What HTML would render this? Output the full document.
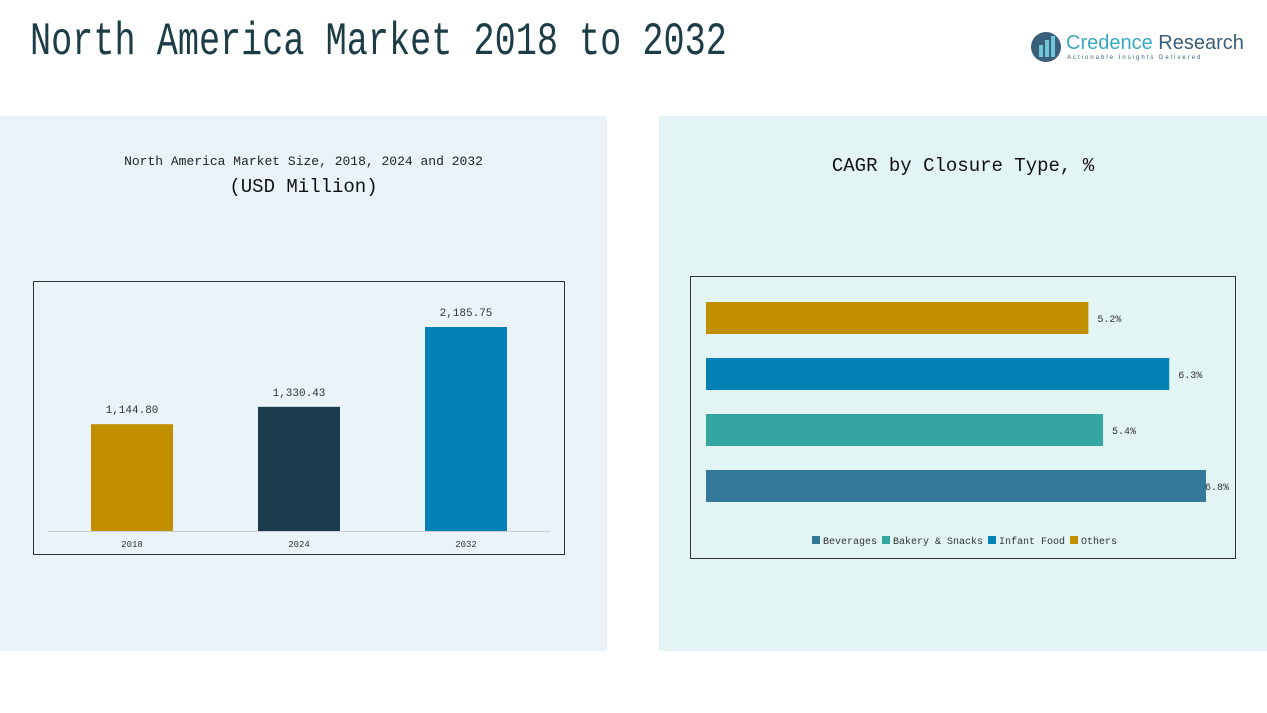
<!DOCTYPE html>
<html><head><meta charset="utf-8"><style>
body{margin:0;width:1267px;height:713px;background:#fff;position:relative;overflow:hidden;font-family:"Liberation Mono","Noto Sans CJK SC",monospace}
.abs{position:absolute}
</style></head><body>
<div class="abs" style="left:0;top:116px;width:607px;height:535px;background:#e9f3f8"></div>
<div class="abs" style="left:659px;top:116px;width:608px;height:535px;background:#e3f4f4"></div>
<div class="abs" style="left:30px;top:16px;font-size:46px;white-space:nowrap;color:#1c3d47;font-family:'Liberation Mono',monospace;transform:scaleX(0.765);transform-origin:left top">North America Market 2018 to 2032</div>
<div class="abs" style="left:1030px;top:30px;width:215px;height:36px;white-space:nowrap">
 <svg width="32" height="34" style="position:absolute;left:0;top:0"><circle cx="16" cy="17" r="15" fill="#3a5f7a"/><rect x="9" y="15" width="4" height="12" fill="#6fc6d6"/><rect x="15" y="10" width="4" height="17" fill="#6fc6d6"/><rect x="21" y="6" width="4" height="21" fill="#6fc6d6"/></svg>
 <div style="position:absolute;left:36px;top:2px;font-family:'Liberation Sans',sans-serif;font-size:20px;color:#3aa8c4;white-space:nowrap">Credence <span style="color:#3a5f7a">Research</span></div>
 <div style="position:absolute;left:37px;top:25px;font-family:'Liberation Sans',sans-serif;font-size:6px;letter-spacing:2px;color:#3a5f7a;white-space:nowrap">Actionable Insights Delivered</div>
</div>
<div class="abs" style="left:0;width:607px;top:154px;text-align:center;font-size:13px;color:#222">North America Market Size, 2018, 2024 and 2032</div>
<div class="abs" style="left:0;width:607px;top:176px;text-align:center;font-size:19px;color:#111">(USD Million)</div>
<div class="abs" style="left:659px;width:608px;top:155px;text-align:center;font-size:19px;color:#111">CAGR by Closure Type, %</div>
<svg class="abs" style="left:0;top:0" width="1267" height="713" id="charts">
 <rect x="33.5" y="281.5" width="531" height="273" fill="none" stroke="#333"/>
 <line x1="48" x2="550" y1="531.5" y2="531.5" stroke="#ccd"/>
 <rect x="690.5" y="276.5" width="545" height="282" fill="none" stroke="#333"/>
 <g id="bars1"></g><g id="bars2"></g>
</svg>
<script>
const years=["2018","2024","2032"];
const marketValues=[1144.80,1330.43,2185.75];
const valueLabels=["1,144.80","1,330.43","2,185.75"];
const barColors=["#c18f00","#1a3c4c","#0582b5"];
const segments=["Others","Infant Food","Bakery & Snacks","Beverages"];
const cagr=[5.2,6.3,5.4,6.8];
const cagrColors=["#c18f00","#0582b5","#35a5a2","#337a9a"];
const legendOrder=["Beverages","Bakery & Snacks","Infant Food","Others"];
const legendColors=["#337a9a","#35a5a2","#0582b5","#c18f00"];
const NS="http://www.w3.org/2000/svg";
function mk(t,a,p){const e=document.createElementNS(NS,t);for(const k in a)e.setAttribute(k,a[k]);p.appendChild(e);return e;}
const yS=v=>531-v*204/2185.75, xC=i=>132+i*167;
const g1=document.getElementById('bars1');
years.forEach((y,i)=>{
 const r=mk('rect',{x:xC(i)-41,y:yS(marketValues[i]),width:82,height:531-yS(marketValues[i]),fill:barColors[i]},g1);
 
 
 const t=mk('text',{x:xC(i),y:yS(marketValues[i])-11,'text-anchor':'middle','font-size':11,fill:'#333','font-family':'Liberation Mono, monospace'},g1);t.textContent=valueLabels[i];
 
 
 const l=mk('text',{x:xC(i),y:547,'text-anchor':'middle','font-size':9,fill:'#333','font-family':'Liberation Mono, monospace'},g1);l.textContent=y;
 
 
});
const g2=document.getElementById('bars2');
const xS=v=>706+v*73.53, yR=i=>302+i*56;
segments.forEach((s,i)=>{
 const r=mk('rect',{x:706,y:yR(i),width:xS(cagr[i])-706,height:32,fill:cagrColors[i]},g2);
 
 
 const t=mk('text',{x:xS(cagr[i])+(i==3?-1:9),y:yR(i)+20,'font-size':10,fill:'#333','font-family':'Liberation Mono, monospace'},g2);t.textContent=cagr[i]+'%';
 
 
});
let lx=812;
legendOrder.forEach((s,i)=>{
 const r=mk('rect',{x:lx,y:536,width:8,height:8,fill:legendColors[i]},g2);
 
 
 const t=mk('text',{x:lx+11,y:544,'font-size':10,fill:'#333','font-family':'Liberation Mono, monospace'},g2);t.textContent=s;
 
 
 lx+=11+s.length*6+5;
});
</script>
</body></html>
